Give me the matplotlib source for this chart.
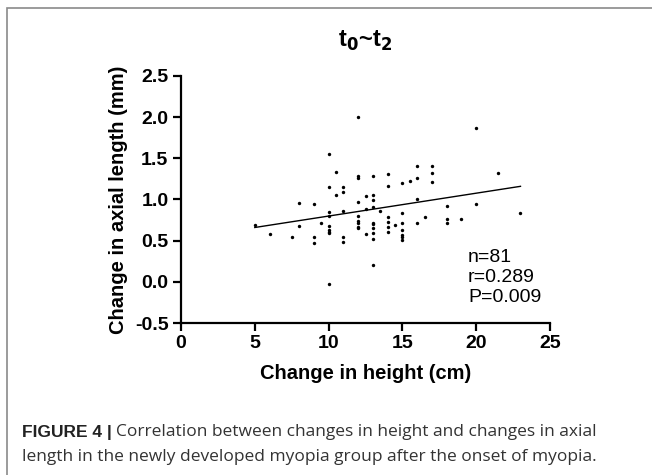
import matplotlib
matplotlib.use("Agg")
import matplotlib.pyplot as plt
from matplotlib.patches import Rectangle

plt.rcParams["font.family"] = ["Liberation Sans", "DejaVu Sans"]

# height change (cm) vs axial length change (mm)
height_cm = [
    5, 6, 7.5, 8, 8, 9, 9, 9, 9.5,
    10, 10, 10, 10, 10, 10, 10, 10, 10,
    10.5, 10.5, 11, 11, 11, 11, 11,
    12, 12, 12, 12, 12, 12, 12, 12, 12,
    12.5, 12.5, 12.5,
    13, 13, 13, 13, 13, 13, 13, 13, 13, 13,
    13.5, 14, 14, 14, 14, 14, 14, 14.5,
    15, 15, 15, 15, 15, 15, 15, 15.5,
    16, 16, 16, 16, 16.5, 17, 17, 17,
    18, 18, 18, 19, 20, 20, 21.5, 23,
]
axial_mm = [
    0.69, 0.58, 0.55, 0.96, 0.68, 0.95, 0.55, 0.47, 0.72,
    1.55, 1.15, 0.85, 0.80, 0.68, 0.63, 0.61, 0.59, -0.03,
    1.34, 1.05, 1.15, 1.09, 0.86, 0.55, 0.48,
    2.00, 1.29, 1.26, 0.97, 0.80, 0.74, 0.71, 0.67, 0.65,
    1.04, 0.88, 0.58,
    1.28, 1.05, 0.99, 0.91, 0.72, 0.70, 0.65, 0.59, 0.52, 0.21,
    0.86, 1.31, 1.16, 0.79, 0.73, 0.67, 0.60, 0.69,
    1.20, 0.83, 0.71, 0.63, 0.57, 0.55, 0.51, 1.23,
    1.41, 1.26, 1.01, 0.71, 0.79, 1.41, 1.32, 1.21,
    0.92, 0.76, 0.71, 0.76, 1.87, 0.95, 1.32, 0.84,
]
fit_x = [5, 23]
fit_y = [0.66, 1.16]
stats = ["n=81", "r=0.289", "P=0.009"]

W, H = 652, 475
fig = plt.figure(figsize=(W / 100, H / 100), dpi=100)

# outer frame of the figure panel
fig.patches.append(Rectangle((7 / W, -0.05), 1.0, 1 - 8 / H + 0.05,
                             transform=fig.transFigure, fill=False,
                             edgecolor="#8a8a8a", lw=1.2))

ax = fig.add_axes([181 / W, 152 / H, 369 / W, 247 / H])
ax.scatter(height_cm, axial_mm, s=6, color="black", lw=0, zorder=3)
ax.plot(fit_x, fit_y, color="black", lw=1.0)

ax.set_xlim(0, 25)
ax.set_ylim(-0.5, 2.5)
ax.set_xticks([0, 5, 10, 15, 20, 25])
ax.set_yticks([-0.5, 0.0, 0.5, 1.0, 1.5, 2.0, 2.5])
ax.set_yticklabels(["-0.5", "0.0", "0.5", "1.0", "1.5", "2.0", "2.5"])
for side in ("top", "right"):
    ax.spines[side].set_visible(False)
for side in ("left", "bottom"):
    ax.spines[side].set_linewidth(1.6)
ax.tick_params(width=1.6, length=6, labelsize=14, pad=3)
for lbl in ax.get_xticklabels() + ax.get_yticklabels():
    lbl.set_fontweight("bold")

ax.set_xlabel("Change in height (cm)", fontsize=14.5, fontweight="bold", labelpad=8)
ax.set_ylabel("Change in axial length (mm)", fontsize=14.5, fontweight="bold", labelpad=5)
ax.set_title("t$_\\mathbf{0}$~t$_\\mathbf{2}$", fontsize=17, fontweight="bold", pad=21)

for i, s in enumerate(stats):
    ax.text(468, H - (258 + i * 20), s, transform=None, fontsize=14, va="center")

# caption
y1 = 1 - 432 / H
y2 = 1 - 457 / H
cap_font = ["Open Sans", "Liberation Sans"]
t_bold = fig.text(22 / W, y1, "FIGURE 4 |", fontsize=12.5, fontweight="bold",
                  color="#222222", va="center")
fig.canvas.draw()
bb = t_bold.get_window_extent()
fig.text((bb.x1 + 4) / W, y1, "Correlation between changes in height and changes in axial",
         fontsize=12.5, family=cap_font, color="#333333", va="center")
fig.text(22 / W, y2, "length in the newly developed myopia group after the onset of myopia.",
         fontsize=12.5, family=cap_font, color="#333333", va="center")

fig.savefig("out.png", dpi=100)
